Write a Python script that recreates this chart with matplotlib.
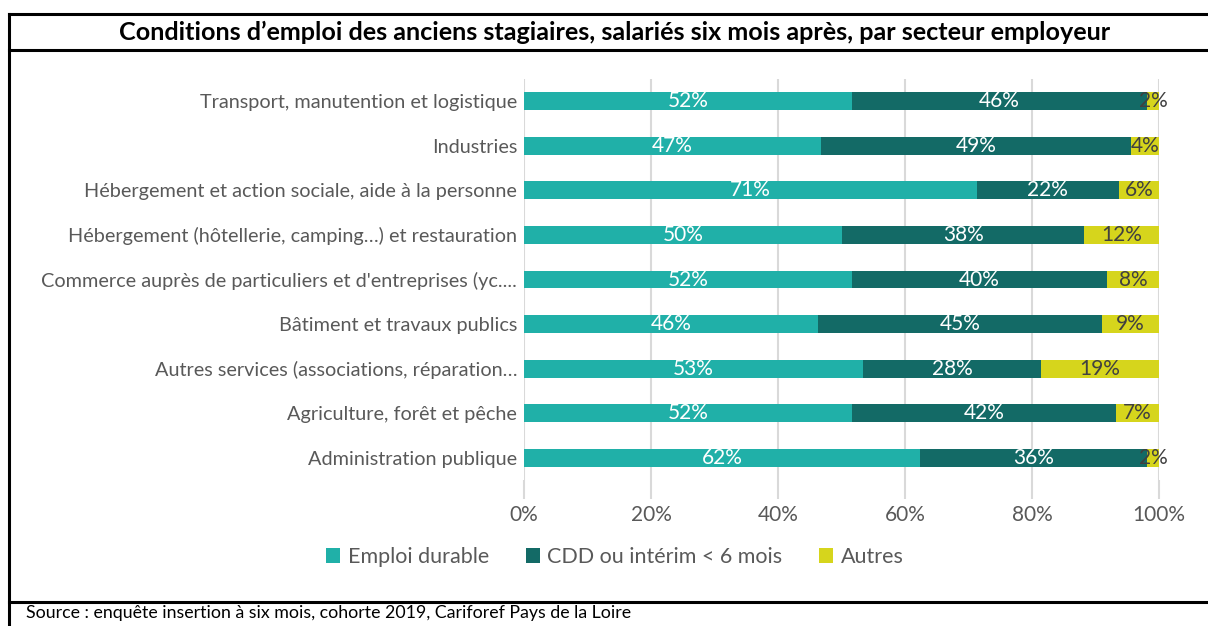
import matplotlib.pyplot as plt
from matplotlib.lines import Line2D
import numpy as np

plt.rcParams['font.family'] = ['Lato', 'DejaVu Sans']

# Données (lecture du graphique, en %)
secteurs = [
    "Transport, manutention et logistique",
    "Industries",
    "Hébergement et action sociale, aide à la personne",
    "Hébergement (hôtellerie, camping…) et restauration",
    "Commerce auprès de particuliers et d'entreprises (yc....",
    "Bâtiment et travaux publics",
    "Autres services (associations, réparation…",
    "Agriculture, forêt et pêche",
    "Administration publique",
]
emploi_durable = [51.7, 46.8, 71.3, 50.1, 51.7, 46.3, 53.4, 51.7, 62.4]
cdd_interim = [46.4, 48.8, 22.4, 38.1, 40.1, 44.7, 28.0, 41.5, 35.7]
autres = [1.9, 4.4, 6.3, 11.8, 8.2, 9.0, 18.6, 6.8, 1.9]
series_noms = ["Emploi durable", "CDD ou intérim < 6 mois", "Autres"]
couleurs = ["#20B0A8", "#136A66", "#D6D51C"]
couleurs_txt = ["white", "white", "#404040"]

fig = plt.figure(figsize=(12.08, 6.26), dpi=100)
ax = fig.add_axes([0.4338, 0.2327, 0.5256, 0.6416])

y = np.arange(len(secteurs))[::-1]
gauche = np.zeros(len(secteurs))
for vals, nom, c, ct in zip([emploi_durable, cdd_interim, autres], series_noms, couleurs, couleurs_txt):
    vals = np.array(vals)
    ax.barh(y, vals, left=gauche, height=0.4, color=c, label=nom, zorder=3)
    for yi, l, v in zip(y, gauche, vals):
        ax.text(l + v / 2, yi, f"{v:.0f}%", ha='center', va='center',
                color=ct, fontsize=15, zorder=4)
    gauche += vals

ax.set_xlim(0, 100)
ax.set_ylim(-0.5, len(secteurs) - 0.5)
ax.set_yticks(y)
ax.set_yticklabels(secteurs, fontsize=14.3, color='#595959')
ax.set_xticks(np.arange(0, 101, 20))
ax.set_xticklabels([f"{v}%" for v in range(0, 101, 20)], fontsize=15, color='#595959')
ax.tick_params(axis='y', length=0, pad=5)
ax.tick_params(axis='x', length=14, color='#D9D9D9', width=1.5, pad=4)
ax.grid(axis='x', color='#D9D9D9', linewidth=1.5, zorder=0)
for s in ax.spines.values():
    s.set_visible(False)

# Légende
fig.legend(loc='center', bbox_to_anchor=(0.509, 1 - 557 / 626), ncol=3,
           frameon=False, fontsize=15.5, handlelength=0.65, handleheight=0.65,
           handletextpad=0.35, columnspacing=1.7, labelcolor='#595959')

# Cadre
lw = 2.2
fig.add_artist(Line2D([0.0075, 1], [1 - 14 / 626] * 2, color='black', lw=lw))
fig.add_artist(Line2D([0.0075, 1], [1 - 50 / 626] * 2, color='black', lw=lw))
fig.add_artist(Line2D([0.0075, 1], [1 - 602 / 626] * 2, color='black', lw=lw))
fig.add_artist(Line2D([0.0075, 0.0075], [0, 1 - 14 / 626], color='black', lw=lw))

fig.text(0.509, 1 - 32 / 626,
         "Conditions d’emploi des anciens stagiaires, salariés six mois après, par secteur employeur",
         ha='center', va='center', fontsize=18.1, fontweight='bold', color='black')
fig.text(26 / 1208, 1 - 613 / 626,
         "Source : enquête insertion à six mois, cohorte 2019, Cariforef Pays de la Loire",
         ha='left', va='center', fontsize=12.8, color='black')

fig.savefig('out.png', dpi=100)
